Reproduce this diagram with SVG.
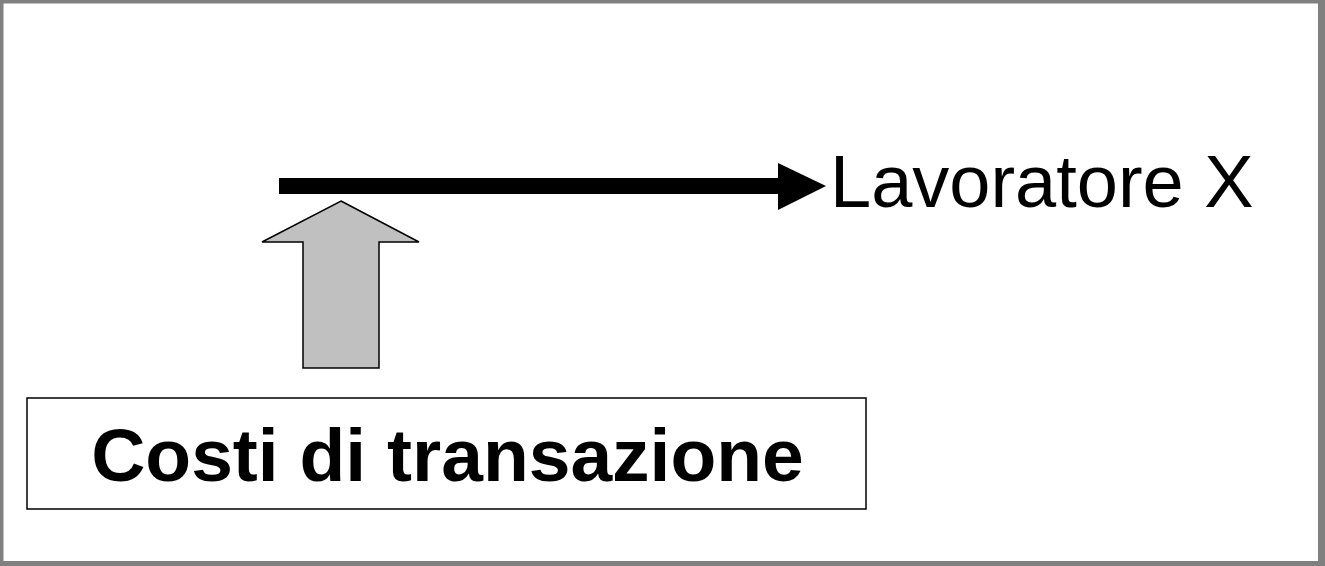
<svg xmlns="http://www.w3.org/2000/svg" width="1325" height="566" viewBox="0 0 1325 566">
  <style>
    .lbl { font-family: "Liberation Sans", Arial, sans-serif; fill: #000; }
    .outline { stroke: #000; stroke-width: 1.5; }
  </style>
  <rect x="0" y="0" width="1325" height="566" fill="#fff"/>
  <rect id="frame" x="0" y="0" width="1321.5" height="564.5" fill="none" stroke="#808080" stroke-width="7"/>
  <g id="connectors">
    <line x1="279" y1="186" x2="780" y2="186" stroke="#000" stroke-width="16"/>
    <polygon points="778,163 826,186 778,210" fill="#000"/>
    <polygon class="outline" points="341,201 419,242 379,242 379,368 303,368 303,242 262,242" fill="#c0c0c0"/>
  </g>
  <g id="lavoratore">
    <text class="lbl" x="830" y="207" font-size="74">Lavoratore X</text>
  </g>
  <g id="costi">
    <rect class="outline" x="27" y="398" width="839" height="111" fill="#fff"/>
    <text class="lbl" x="447.5" y="481" font-size="75" font-weight="bold" text-anchor="middle">Costi di transazione</text>
  </g>
</svg>
